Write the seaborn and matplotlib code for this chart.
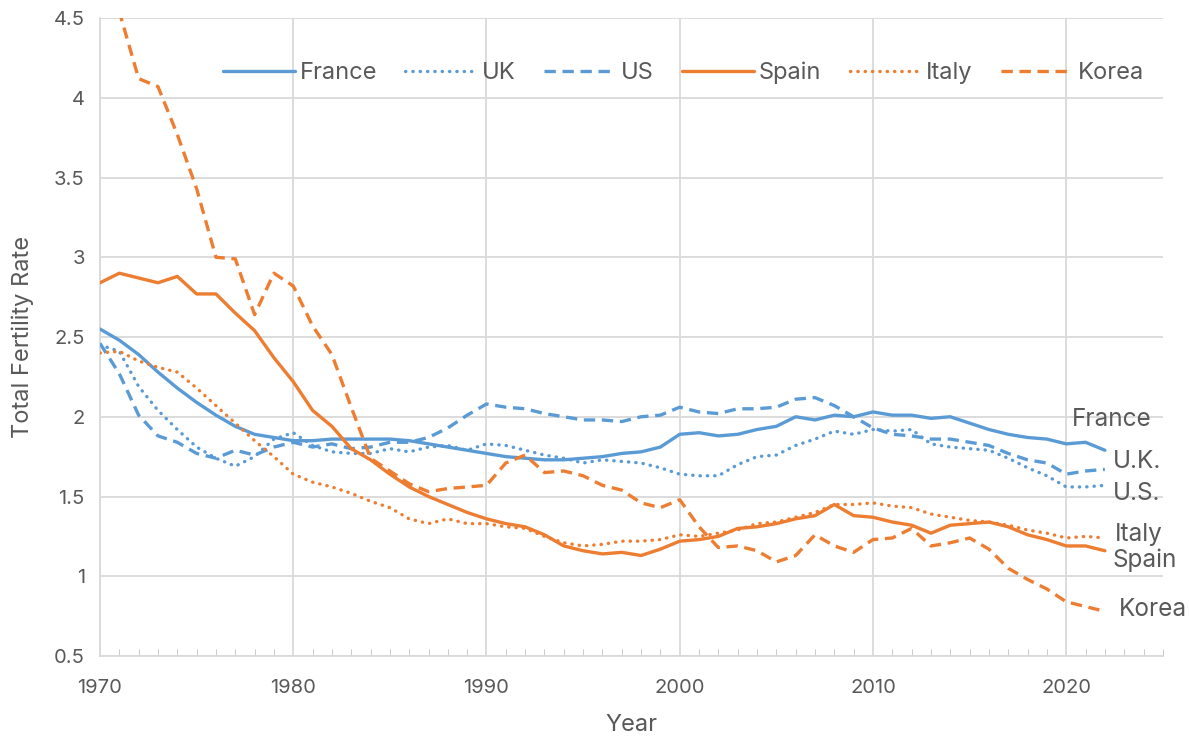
import matplotlib
matplotlib.use("Agg")
import matplotlib.pyplot as plt
import seaborn as sns
from matplotlib.ticker import MultipleLocator, FuncFormatter

years = list(range(1970, 2023))

france = [2.55, 2.48, 2.39, 2.28, 2.18, 2.09, 2.01, 1.94, 1.89, 1.87,
          1.85, 1.85, 1.86, 1.86, 1.86, 1.86, 1.85, 1.83, 1.81, 1.79,
          1.77, 1.75, 1.74, 1.73, 1.73, 1.74, 1.75, 1.77, 1.78, 1.81,
          1.89, 1.90, 1.88, 1.89, 1.92, 1.94, 2.00, 1.98, 2.01, 2.00,
          2.03, 2.01, 2.01, 1.99, 2.00, 1.96, 1.92, 1.89, 1.87, 1.86,
          1.83, 1.84, 1.79]
uk = [2.45, 2.41, 2.19, 2.04, 1.92, 1.81, 1.74, 1.69, 1.75, 1.86,
      1.90, 1.82, 1.78, 1.77, 1.77, 1.80, 1.78, 1.81, 1.82, 1.79,
      1.83, 1.82, 1.79, 1.76, 1.74, 1.71, 1.73, 1.72, 1.71, 1.68,
      1.64, 1.63, 1.63, 1.70, 1.75, 1.76, 1.82, 1.86, 1.91, 1.89,
      1.92, 1.91, 1.92, 1.83, 1.81, 1.80, 1.79, 1.74, 1.68, 1.63,
      1.56, 1.56, 1.57]
us = [2.46, 2.27, 2.01, 1.88, 1.84, 1.77, 1.74, 1.79, 1.76, 1.81,
      1.84, 1.81, 1.83, 1.80, 1.81, 1.84, 1.84, 1.87, 1.93, 2.01,
      2.08, 2.06, 2.05, 2.02, 2.00, 1.98, 1.98, 1.97, 2.00, 2.01,
      2.06, 2.03, 2.02, 2.05, 2.05, 2.06, 2.11, 2.12, 2.07, 2.00,
      1.93, 1.89, 1.88, 1.86, 1.86, 1.84, 1.82, 1.77, 1.73, 1.71,
      1.64, 1.66, 1.67]
spain = [2.84, 2.90, 2.87, 2.84, 2.88, 2.77, 2.77, 2.65, 2.54, 2.37,
         2.22, 2.04, 1.94, 1.80, 1.73, 1.64, 1.56, 1.50, 1.45, 1.40,
         1.36, 1.33, 1.31, 1.26, 1.19, 1.16, 1.14, 1.15, 1.13, 1.17,
         1.22, 1.23, 1.25, 1.30, 1.31, 1.33, 1.36, 1.38, 1.45, 1.38,
         1.37, 1.34, 1.32, 1.27, 1.32, 1.33, 1.34, 1.31, 1.26, 1.23,
         1.19, 1.19, 1.16]
italy = [2.40, 2.41, 2.35, 2.31, 2.28, 2.18, 2.07, 1.96, 1.85, 1.75,
         1.64, 1.59, 1.56, 1.52, 1.47, 1.43, 1.36, 1.33, 1.36, 1.33,
         1.33, 1.31, 1.30, 1.25, 1.21, 1.19, 1.20, 1.22, 1.22, 1.23,
         1.26, 1.25, 1.27, 1.29, 1.33, 1.34, 1.37, 1.40, 1.45, 1.45,
         1.46, 1.44, 1.43, 1.39, 1.37, 1.35, 1.34, 1.32, 1.29, 1.27,
         1.24, 1.25, 1.24]
korea = [4.53, 4.54, 4.12, 4.07, 3.77, 3.43, 3.00, 2.99, 2.64, 2.90,
         2.82, 2.57, 2.39, 2.06, 1.74, 1.66, 1.58, 1.53, 1.55, 1.56,
         1.57, 1.71, 1.76, 1.65, 1.66, 1.63, 1.57, 1.54, 1.46, 1.43,
         1.48, 1.31, 1.18, 1.19, 1.16, 1.09, 1.13, 1.26, 1.19, 1.15,
         1.23, 1.24, 1.30, 1.19, 1.21, 1.24, 1.17, 1.05, 0.98, 0.92,
         0.84, 0.81, 0.78]

# end-of-line labels as they appear on the chart
end_labels = ["France", "U.K.", "U.S.", "Italy", "Spain", "Korea"]
end_label_x = [2020.3, 2022.4, 2022.4, 2022.5, 2022.4, 2022.7]
end_label_y = [1.98, 1.72, 1.52, 1.26, 1.10, 0.79]

BLUE = "#5B9BD5"
ORANGE = "#ED7D31"
TEXT = "#595959"
GRID = "#D9D9D9"

SOLID = "-"
DOTS = (0, (0.1, 2.1))
DASH = (0, (3.4, 2.0))

series = [
    ("France", france, BLUE, SOLID),
    ("UK", uk, BLUE, DOTS),
    ("US", us, BLUE, DASH),
    ("Spain", spain, ORANGE, SOLID),
    ("Italy", italy, ORANGE, DOTS),
    ("Korea", korea, ORANGE, DASH),
]

sns.set_style("white")
plt.rcParams['font.family'] = ['Inter', 'DejaVu Sans']

fig, ax = plt.subplots(figsize=(11.89, 7.41), dpi=100)
fig.subplots_adjust(left=0.0841, right=0.978, bottom=0.1147, top=0.9757)

for name, vals, color, ls in series:
    sns.lineplot(x=years, y=vals, color=color, linestyle=ls, linewidth=2.4,
                 dash_capstyle="round" if ls == DOTS else "butt",
                 label=name, ax=ax, zorder=3)

ax.set_xlim(1970, 2025)
ax.set_ylim(0.5, 4.5)
ax.xaxis.set_major_locator(MultipleLocator(10))
ax.xaxis.set_minor_locator(MultipleLocator(1))
ax.yaxis.set_major_locator(MultipleLocator(0.5))
ax.yaxis.set_major_formatter(FuncFormatter(lambda v, p: f"{v:g}"))

ax.grid(True, which="major", color=GRID, linewidth=1.3, zorder=0)
ax.set_axisbelow(True)
for side in ["top", "right"]:
    ax.spines[side].set_visible(False)
for side in ["left", "bottom"]:
    ax.spines[side].set_color(GRID)
    ax.spines[side].set_linewidth(1.3)

ax.tick_params(axis="x", which="major", direction="inout", length=9,
               color="#BFBFBF", labelsize=14.5, labelcolor=TEXT, pad=12)
ax.tick_params(axis="x", which="minor", direction="in", length=5,
               color="#BFBFBF", bottom=True)
ax.tick_params(axis="y", length=0, labelsize=14.5, labelcolor=TEXT, pad=11)

ax.set_xlabel("Year", fontsize=17, color=TEXT, labelpad=12)
ax.set_ylabel("Total Fertility Rate", fontsize=17, color=TEXT, labelpad=14)

ax.legend(loc="center", bbox_to_anchor=(0.549, 0.914), ncol=6, frameon=False,
          fontsize=17, handlelength=3.05, handletextpad=0.2, columnspacing=1.2,
          labelcolor=TEXT)

for lab, lx, ly in zip(end_labels, end_label_x, end_label_y):
    ax.text(lx, ly, lab, fontsize=17.5, color=TEXT, ha="left", va="center")

fig.savefig("out.png", dpi=100)
